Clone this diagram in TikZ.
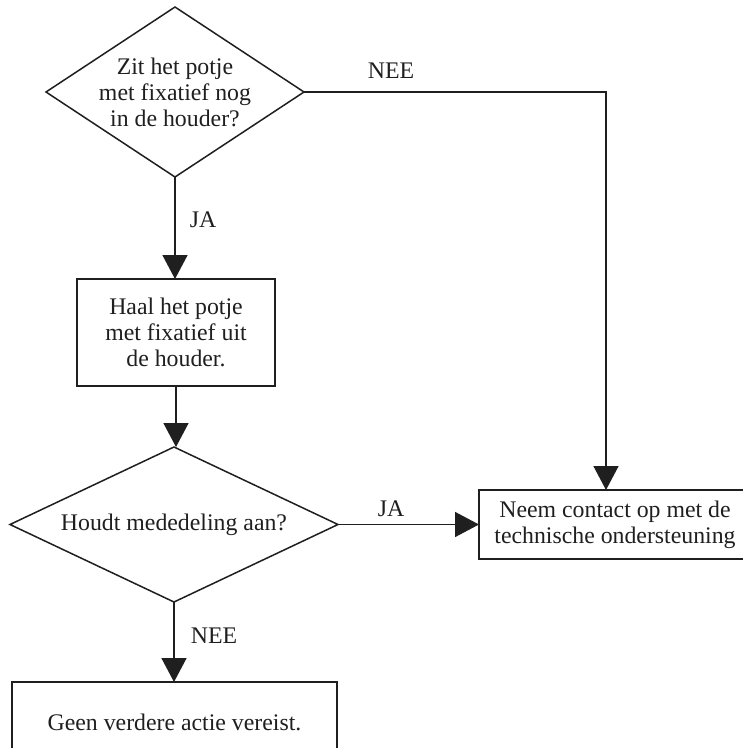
\documentclass[tikz,border=0pt]{standalone}
\usepackage{fontspec}
\setmainfont{Liberation Serif}
\usetikzlibrary{shapes.geometric,arrows.meta}
\tikzset{
  txt/.style={font=\fontsize{23.8}{26}\selectfont, align=center, text=black!88},
  dia/.style={draw, shape=diamond, inner sep=0pt, outer sep=0pt, line width=1.5pt, black!88},
  boxnode/.style={draw, rectangle, inner sep=0pt, outer sep=0pt, line width=1.5pt, black!88, txt},
  conn/.style={line width=1.5pt, black!88, -{Triangle[length=24pt,width=25pt]}},
  lbl/.style={txt, anchor=base}
}
\begin{document}
\begin{tikzpicture}[x=1pt,y=-1pt]
\useasboundingbox (0,0) rectangle (743,748);
\clip (0,0) rectangle (743,748);
\node[dia, minimum width=258pt, minimum height=170pt,
  label={[txt]center:Zit het potje\\met fixatief nog\\in de houder?}] (d1) at (175,92) {};
\node[boxnode, minimum width=198pt, minimum height=107pt] (b1) at (176,332.5) {Haal het potje\\met fixatief uit\\de houder.};
\node[dia, minimum width=328pt, minimum height=155pt,
  label={[txt]center:Houdt mededeling aan?}] (d2) at (174,524.5) {};
\node[boxnode, minimum width=272pt, minimum height=69pt] (b2) at (615,524.5) {Neem contact op met de\\technische ondersteuning};
\node[boxnode, minimum width=325pt, minimum height=80pt] (b3) at (174.5,722) {Geen verdere actie vereist.};
\coordinate (c2) at ([xshift=-9pt]b2.north);
\draw[conn] (d1.south) -- (d1.south |- b1.north);
\draw[conn] (b1.south) -- (b1.south |- d2.north);
\draw[conn] (d2.south) -- (d2.south |- b3.north);
\draw[conn] (d2.east) -- (b2.west);
\draw[conn] (d1.east) -| (c2);
\node[lbl] (l1) at (391,78) {NEE};
\node[lbl] (l2) at (203,227) {JA};
\node[lbl] (l3) at (391,516) {JA};
\node[lbl] (l4) at (214,643) {NEE};
\end{tikzpicture}
\end{document}
